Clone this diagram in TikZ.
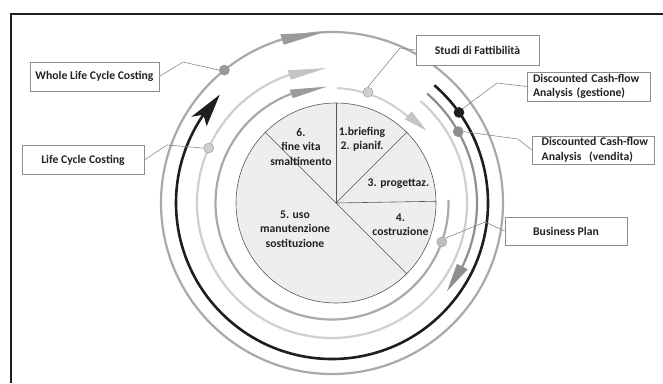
\documentclass[tikz,border=0pt]{standalone}
\usepackage{fontspec}
\setmainfont{Carlito}
\usetikzlibrary{calc}
\definecolor{ringmid}{HTML}{A9A9A9}
\definecolor{ringlight}{HTML}{CFCFCF}
\definecolor{ringdark}{HTML}{1E1E1E}
\definecolor{ringvend}{HTML}{8E8E8E}
\definecolor{headmid}{HTML}{9A9A9A}
\definecolor{headlight}{HTML}{C4C4C4}
\definecolor{piefill}{HTML}{EEEEEE}
\definecolor{pieline}{HTML}{555555}
\definecolor{boxline}{HTML}{8C8C8C}
\definecolor{leader}{HTML}{8A8A8A}
\definecolor{txt}{HTML}{222222}
\newcommand\wedgehead[6]{%
  \fill[#6] ([shift={(#1:#2)}]C) -- ([shift={(#3:#4)}]C) -- ([shift={(#3:#5)}]C) -- cycle;}
\begin{document}
\begin{tikzpicture}[x=1bp,y=-1bp,
  lbl/.style={font=\bfseries\fontsize{11.7bp}{14.4bp}\selectfont, text=txt},
  piefont/.style={lbl, align=center, inner sep=0pt},
  labelbox/.style={lbl, draw=boxline, line width=0.8bp, fill=white, inner sep=0pt},
  ring/.style={line width=2.2bp},
  dot/.style={circle, minimum size=10bp, inner sep=0pt, line width=0.6bp},
  lead/.style={draw=leader, line width=0.6bp}]
\useasboundingbox (0,0) rectangle (663,383);
\fill[white] (0,0) rectangle (663,383);
% frame
\draw[ringdark, line width=2.4bp] (11,383) -- (11,14) -- (663,14);
% centres
\coordinate (C) at (332,203);
\coordinate (P) at (336,203);
% pie
\fill[piefill] (P) circle (100);
\draw[pieline, line width=0.6bp] (P) circle (100);
\draw[pieline, line width=0.6bp] (P) -- ++(-90:100);
\draw[pieline, line width=0.6bp] (P) -- ++(-45:100);
\draw[pieline, line width=0.6bp] (P) -- ++(-1:100);
\draw[pieline, line width=0.6bp] ([shift={(-135:100)}]P) -- ([shift={(45:100)}]P);
\node[piefont] (t6) at (301,147) {6.\\fine vita\\smaltimento};
\node[piefont] (t12) at (362,139.5) {1.briefing\\2. pianif.};
\node[piefont] (t3) at (398.5,183.5) {3. progettaz.};
\node[piefont] (t5) at (295,229) {5. uso\\manutenzione\\sostituzione};
\node[piefont] (t4) at (400.5,225) {4.\\costruzione};
% outer ring (full) with arrowhead at top
\draw[ringmid, ring] (C) circle (171);
\wedgehead{-92.7}{171}{-107}{176.5}{165.5}{headmid}
% light ring
\draw[ringlight, ring] ([shift={(-49:135)}]C) arc[start angle=-49, end angle=258, radius=135];
\wedgehead{-92.5}{135}{-108.5}{140}{130}{headlight}
% inner ring
\draw[ringmid, ring] ([shift={(-1.5:116.5)}]C) arc[start angle=-1.5, end angle=255, radius=116.5];
\wedgehead{-92.5}{116.5}{-110.5}{121}{112}{headmid}
% studi arc
\draw[ringlight, line width=2bp] ([shift={(-87.5:115)}]C) arc[start angle=-87.5, end angle=-45, radius=115];
\wedgehead{-37.5}{119}{-49}{121.5}{111}{headlight}
% vendita arc
\draw[ringvend, ring] ([shift={(-49:145)}]C) arc[start angle=-49, end angle=28, radius=145];
\wedgehead{37.5}{145}{26}{151}{139}{ringvend}
% black arc
\draw[ringdark, line width=2.6bp] ([shift={(-49:156)}]C) arc[start angle=-49, end angle=216, radius=156];
\fill[ringdark] ([shift={(224:156)}]C) -- ([shift={(211.5:165)}]C) -- ([shift={(214.5:156)}]C) -- ([shift={(211.5:147)}]C) -- cycle;
% boxes
\node[labelbox, minimum width=129bp, minimum height=29bp] (wlcc) at (94.5,76.5) {Whole Life Cycle Costing};
\node[labelbox, minimum width=122bp, minimum height=28.5bp] (lcc) at (83,160) {Life Cycle Costing};
\node[labelbox, minimum width=123bp, minimum height=30bp] (studi) at (477.5,50) {Studi di Fattibilità};
\node[labelbox, text width=123bp, minimum height=29bp, align=left] (gest) at (588.5,86.5) {\hspace*{6bp}Discounted Cash-flow\\\hspace*{6bp}Analysis (gestione)};
\node[labelbox, text width=122bp, minimum height=28bp, align=left] (vend) at (593.2,150) {\hspace*{9.5bp}Discounted Cash-flow\\\hspace*{9.5bp}Analysis\ \ (vendita)};
\node[labelbox, minimum width=122bp, minimum height=28bp] (bp) at (566,231) {Business Plan};
% dots
\node[dot, fill=headmid, draw=ringvend] (dW) at ([shift={(-129:171)}]C) {};
\node[dot, fill=ringlight, draw=ringmid] (dL) at ([shift={(-156:135)}]C) {};
\node[dot, fill=ringlight, draw=ringmid] (dS) at ([shift={(-72:116.5)}]C) {};
\node[dot, fill=ringdark, draw=ringdark] (dG) at ([shift={(-35.5:156)}]C) {};
\node[dot, fill=ringvend, draw=ringvend] (dV) at ([shift={(-29.5:145)}]C) {};
\node[dot, fill=headlight!80!ringmid, draw=ringmid] (dB) at ([shift={(19.5:116.5)}]C) {};
% leader lines
\coordinate (kW) at (183,62);
\coordinate (kL) at (167,145);
\coordinate (kS) at (400,48);
\coordinate (kG) at (497,83);
\coordinate (kV) at (518,139);
\coordinate (kB) at (485,222);
\draw[lead] (wlcc.east) -- (kW) -- (dW.west);
\draw[lead] (lcc.east) -- (kL) -- (dL.west);
\draw[lead] (dS.north) -- (kS) -- (studi.west);
\draw[lead] (dG.north east) -- (kG) -- (gest.west);
\draw[lead] (dV.east) -- (kV) -- (vend.west);
\draw[lead] (dB.north east) -- (kB) -- (bp.west);
\end{tikzpicture}
\end{document}
